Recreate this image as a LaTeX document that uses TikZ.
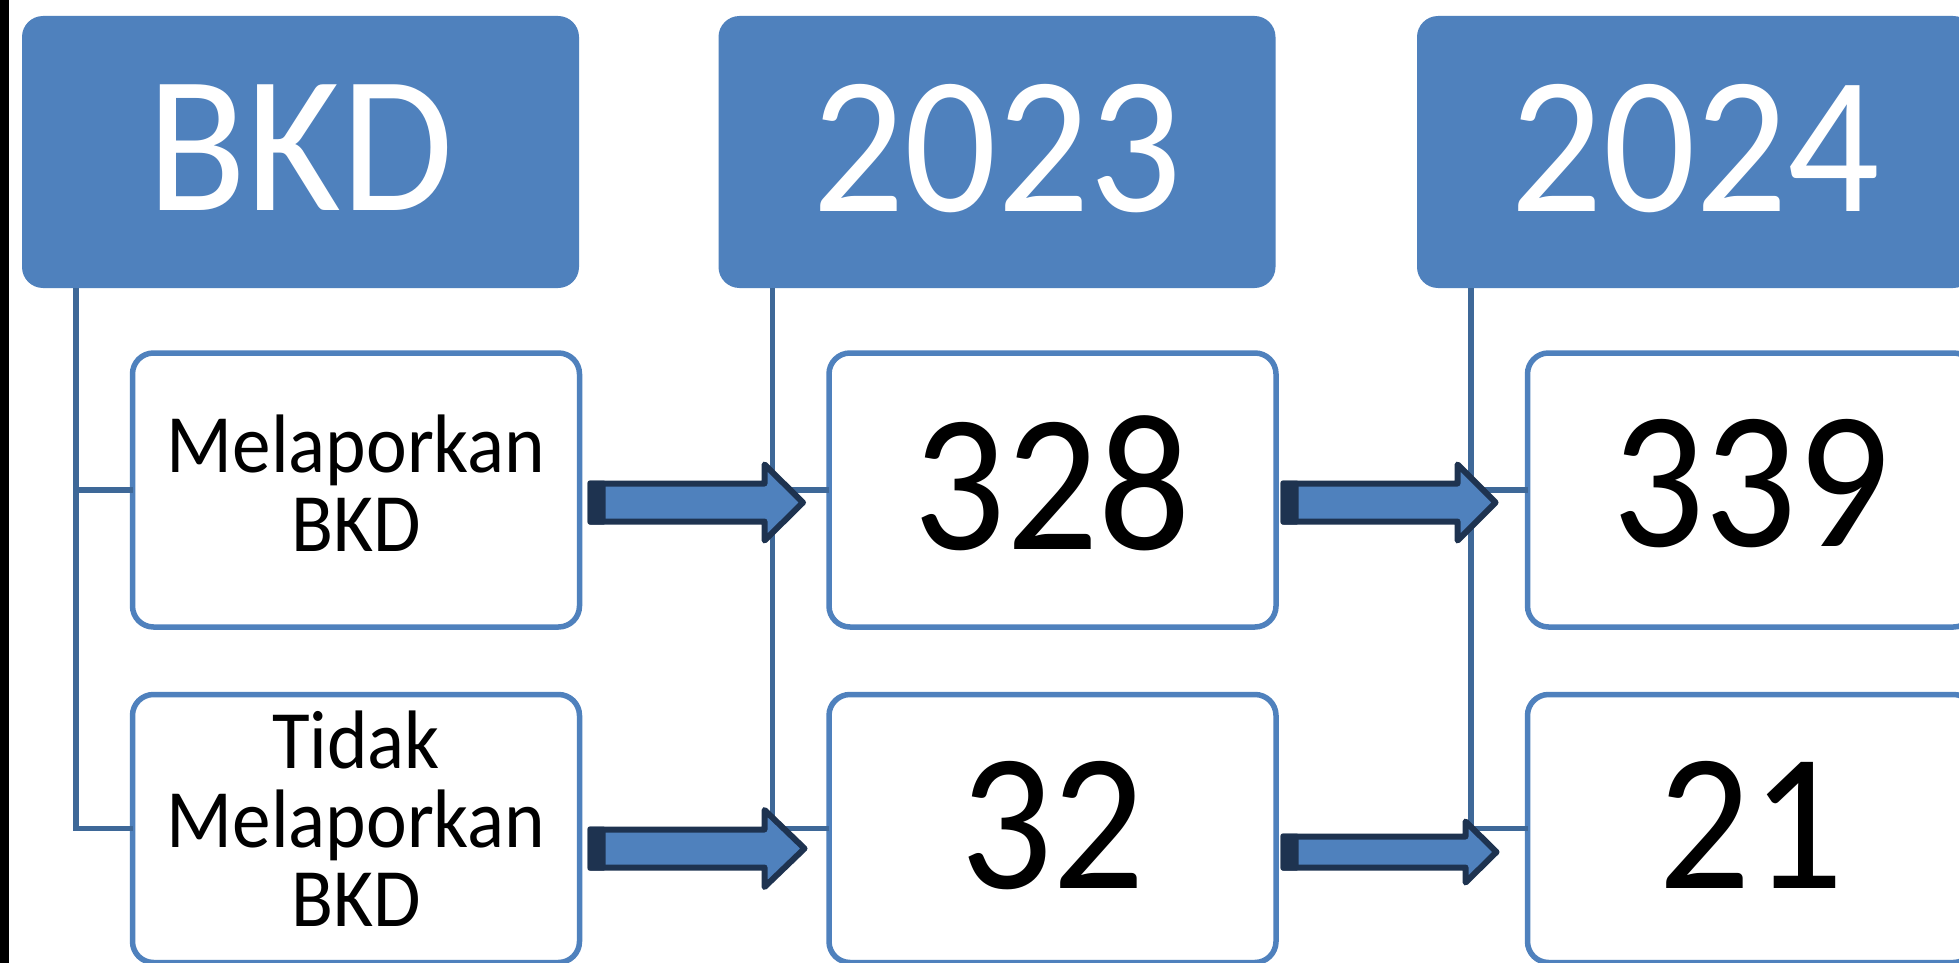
\documentclass[tikz,border=0pt]{standalone}
\usepackage{fontspec}
\setmainfont{Carlito}[FakeStretch=0.93]
\definecolor{accent}{HTML}{4F81BD}
\definecolor{linkblue}{HTML}{3E6898}
\definecolor{navy}{HTML}{1E3350}
% #1 tail x, #2 tip x, #3 centre y, #4 shaft half height, #5 head half height, #6 head length
\newcommand{\blockarrow}[6]{%
  \draw[arrowbody] (#1,{#3-#4}) -- ({#2-#6},{#3-#4}) -- ({#2-#6},{#3-#5}) -- (#2,#3)
    -- ({#2-#6},{#3+#5}) -- ({#2-#6},{#3+#4}) -- (#1,{#3+#4}) -- cycle;
  \fill[navy, rounded corners=1.5pt] ({#1-3},{#3-#4-3}) rectangle ({#1+15},{#3+#4+3});
}
\begin{document}
\begin{tikzpicture}[x=1pt,y=-1pt,
  header/.style={fill=accent, draw=none, rounded corners=21pt, inner sep=0pt, outer sep=0pt,
    minimum width=557pt, minimum height=272pt, anchor=north west, text=white,
    font=\fontsize{196}{196}\selectfont, text depth=9pt},
  cell/.style={fill=white, draw=accent, line width=5.5pt, rounded corners=21pt, inner sep=0pt,
    outer sep=0pt, minimum width=447pt, anchor=north west, text=black,
    font=\fontsize{196}{196}\selectfont},
  lbl/.style={align=center, inner sep=0pt, text=black, font=\fontsize{83}{79}\selectfont},
  link/.style={draw=linkblue, line width=5.5pt},
  arrowbody/.style={fill=accent, draw=navy, line width=6pt, line join=round}]
\useasboundingbox (0,0) rectangle (1959,963);
\clip (0,0) rectangle (1959,963);
\fill[white] (0,0) rectangle (1959,963);
\fill[black] (0,0) rectangle (9,963);

\path (22,16) coordinate (h1pos) (718.5,16) coordinate (h2pos) (1417,16) coordinate (h3pos);

% cells
\node[cell, minimum height=274pt] (c11) at (132.5,353) {};
\node[cell, minimum height=268pt] (c12) at (132.5,694.5) {};
\node[cell, minimum height=274pt, text depth=14pt] (c21) at (829,353) {328};
\node[cell, minimum height=268pt, text depth=8pt] (c22) at (829,694.5) {32};
\node[cell, minimum height=274pt, text depth=14pt] (c31) at (1527.5,353) {339};
\node[cell, minimum height=268pt, text depth=8pt] (c32) at (1527.5,694.5) {21};

\node[lbl] (l11) at ([yshift=7pt]c11.center) {Melaporkan\\BKD};
\node[lbl] (l12) at ([yshift=9.5pt]c12.center) {Tidak\\Melaporkan\\BKD};

% headers
\node[header] (h1) at (h1pos) {BKD};
\node[header] (h2) at (h2pos) {2023};
\node[header] (h3) at (h3pos) {2024};

% connectors
\coordinate (v1) at ([xshift=54pt]h1.south west);
\coordinate (v2) at ([xshift=54pt]h2.south west);
\coordinate (v3) at ([xshift=54pt]h3.south west);
\draw[link] (v1) |- (c12.west);
\draw[link] (v1 |- c11.west) -- (c11.west);
\draw[link] (v2) |- (c22.west);
\draw[link] (v2 |- c21.west) -- (c21.west);
\draw[link] (v3) |- (c32.west);
\draw[link] (v3 |- c31.west) -- (c31.west);

% block arrows
\blockarrow{590.5}{803}{502.5}{19}{38}{38.5}
\blockarrow{1283.5}{1495.5}{502.5}{19}{38}{38}
\blockarrow{590.5}{804.5}{848.5}{19}{38.5}{40}
\blockarrow{1283.5}{1496.5}{852}{15.5}{30.5}{31}
\end{tikzpicture}
\end{document}
